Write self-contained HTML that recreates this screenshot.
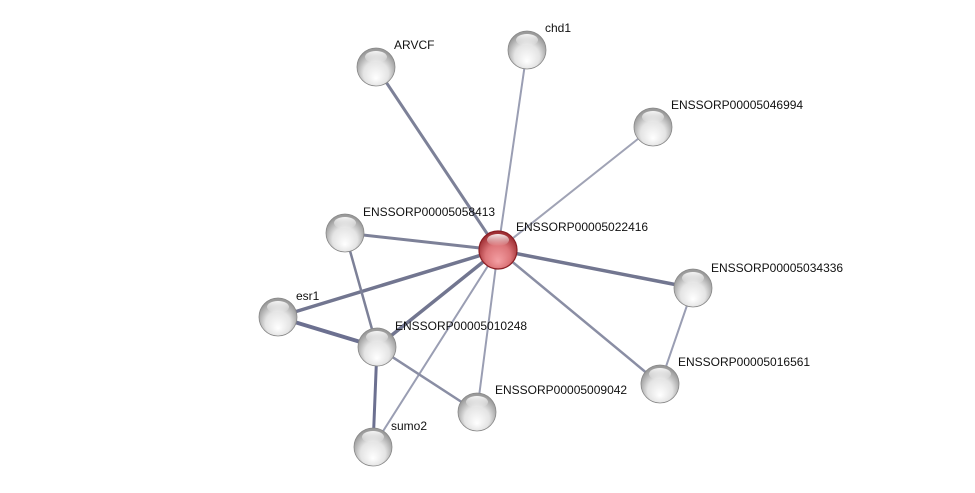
<!DOCTYPE html>
<html><head><meta charset="utf-8"><style>
html,body{margin:0;padding:0;background:#fff;}
svg{display:block;}
text{font-family:"Liberation Sans",sans-serif;font-size:12px;fill:#111;}
</style></head><body>
<svg width="975" height="493" viewBox="0 0 975 493">
<defs>
<radialGradient id="g" cx="50%" cy="60%" r="55%" fx="50%" fy="80%">
<stop offset="0" stop-color="#ffffff"/><stop offset="0.6" stop-color="#e4e4e4"/><stop offset="1" stop-color="#9a9a9a"/>
</radialGradient>
<radialGradient id="r" cx="50%" cy="60%" r="55%" fx="50%" fy="80%">
<stop offset="0" stop-color="#f4a0a4"/><stop offset="0.6" stop-color="#dc7478"/><stop offset="1" stop-color="#a03035"/>
</radialGradient>
<linearGradient id="h" x1="0" y1="0" x2="0" y2="1">
<stop offset="0" stop-color="#fff" stop-opacity="0.9"/><stop offset="1" stop-color="#fff" stop-opacity="0"/>
</linearGradient>
</defs>
<g stroke="#8a8ea8" fill="none" stroke-linecap="round">
<line x1="498" y1="250" x2="376" y2="67" stroke-width="3" stroke="#7d8198"/>
<line x1="498" y1="250" x2="527" y2="50" stroke-width="2" stroke="#9a9eb3"/>
<line x1="498" y1="250" x2="653" y2="127" stroke-width="2" stroke="#a0a3b5"/>
<line x1="498" y1="250" x2="345" y2="233" stroke-width="3" stroke="#7d8198"/>
<line x1="498" y1="250" x2="693" y2="288" stroke-width="3.5" stroke="#727690"/>
<line x1="498" y1="250" x2="278" y2="317" stroke-width="3.5" stroke="#727690"/>
<line x1="498" y1="250" x2="377" y2="347" stroke-width="3.5" stroke="#727690"/>
<line x1="498" y1="250" x2="660" y2="384" stroke-width="2.5" stroke="#8a8ea4"/>
<line x1="498" y1="250" x2="477" y2="412" stroke-width="2" stroke="#9a9eb3"/>
<line x1="498" y1="250" x2="373" y2="447" stroke-width="2" stroke="#9a9eb3"/>
<line x1="345" y1="233" x2="377" y2="347" stroke-width="2.5" stroke="#7d8198"/>
<line x1="278" y1="317" x2="377" y2="347" stroke-width="4" stroke="#6c7090"/>
<line x1="377" y1="347" x2="373" y2="447" stroke-width="3" stroke="#6c7090"/>
<line x1="377" y1="347" x2="477" y2="412" stroke-width="2.5" stroke="#8a8ea4"/>
<line x1="693" y1="288" x2="660" y2="384" stroke-width="2" stroke="#9a9eb3"/>
</g>
<g>
<g transform="translate(376,67)"><circle r="19" fill="url(#g)" stroke="#888" stroke-width="0.8"/><ellipse cy="-10" rx="11" ry="6" fill="url(#h)"/></g>
<g transform="translate(527,50)"><circle r="19" fill="url(#g)" stroke="#888" stroke-width="0.8"/><ellipse cy="-10" rx="11" ry="6" fill="url(#h)"/></g>
<g transform="translate(653,127)"><circle r="19" fill="url(#g)" stroke="#888" stroke-width="0.8"/><ellipse cy="-10" rx="11" ry="6" fill="url(#h)"/></g>
<g transform="translate(345,233)"><circle r="19" fill="url(#g)" stroke="#888" stroke-width="0.8"/><ellipse cy="-10" rx="11" ry="6" fill="url(#h)"/></g>
<g transform="translate(693,288)"><circle r="19" fill="url(#g)" stroke="#888" stroke-width="0.8"/><ellipse cy="-10" rx="11" ry="6" fill="url(#h)"/></g>
<g transform="translate(278,317)"><circle r="19" fill="url(#g)" stroke="#888" stroke-width="0.8"/><ellipse cy="-10" rx="11" ry="6" fill="url(#h)"/></g>
<g transform="translate(377,347)"><circle r="19" fill="url(#g)" stroke="#888" stroke-width="0.8"/><ellipse cy="-10" rx="11" ry="6" fill="url(#h)"/></g>
<g transform="translate(660,384)"><circle r="19" fill="url(#g)" stroke="#888" stroke-width="0.8"/><ellipse cy="-10" rx="11" ry="6" fill="url(#h)"/></g>
<g transform="translate(477,412)"><circle r="19" fill="url(#g)" stroke="#888" stroke-width="0.8"/><ellipse cy="-10" rx="11" ry="6" fill="url(#h)"/></g>
<g transform="translate(373,447)"><circle r="19" fill="url(#g)" stroke="#888" stroke-width="0.8"/><ellipse cy="-10" rx="11" ry="6" fill="url(#h)"/></g>
<g transform="translate(498,250)"><circle r="19" fill="url(#r)" stroke="#8a1e24" stroke-width="1.2"/><ellipse cy="-10" rx="11" ry="6" fill="url(#h)"/></g>
</g>
<text x="394" y="49">ARVCF</text>
<text x="545" y="32">chd1</text>
<text x="671" y="109">ENSSORP00005046994</text>
<text x="363" y="216">ENSSORP00005058413</text>
<text x="516" y="231">ENSSORP00005022416</text>
<text x="711" y="272">ENSSORP00005034336</text>
<text x="296" y="300">esr1</text>
<text x="395" y="330">ENSSORP00005010248</text>
<text x="678" y="366">ENSSORP00005016561</text>
<text x="495" y="394">ENSSORP00005009042</text>
<text x="391" y="430">sumo2</text>
</svg>
</body></html>
